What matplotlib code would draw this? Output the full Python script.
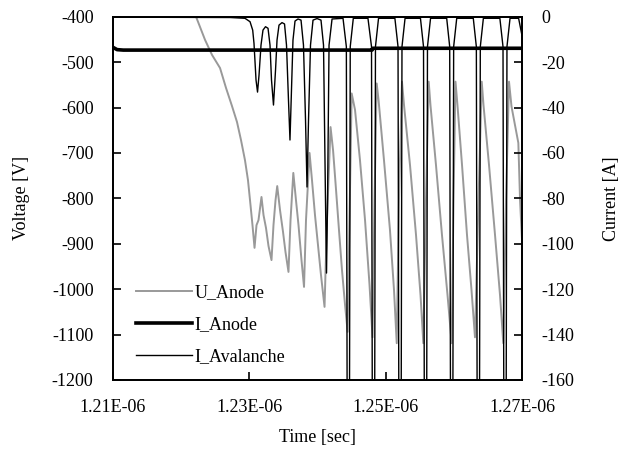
import numpy as np
import matplotlib.pyplot as plt

plt.rcParams['font.family'] = ['Liberation Serif', 'DejaVu Serif']
plt.rcParams['axes.unicode_minus'] = False

# (time [ns], voltage [V])
u_anode = [
    (1221.0, -330), (1222.18, -400), (1223.50, -451), (1224.52, -484), (1225.70, -513),
    (1226.58, -557), (1227.46, -597), (1228.19, -632), (1228.78, -672), (1229.36, -716),
    (1229.80, -760), (1230.17, -815), (1230.46, -859), (1230.76, -909), (1231.05, -859),
    (1231.34, -848), (1231.78, -797), (1232.08, -837), (1232.44, -865), (1232.81, -905),
    (1233.25, -936), (1233.54, -859), (1233.84, -804), (1234.09, -773), (1234.50, -826),
    (1234.94, -874), (1235.30, -918), (1235.74, -962), (1236.04, -848), (1236.45, -744),
    (1236.84, -804), (1237.21, -859), (1237.65, -936), (1238.02, -995), (1238.31, -848),
    (1238.83, -700), (1239.19, -760), (1239.63, -837), (1240.07, -903), (1240.51, -969),
    (1241.03, -1039), (1241.39, -848), (1241.91, -643), (1242.28, -694), (1242.72, -782),
    (1243.15, -870), (1243.59, -958), (1244.04, -1035), (1244.42, -1094), (1244.69, -848),
    (1245.01, -569), (1245.50, -605), (1246.23, -716), (1246.97, -848), (1247.63, -991),
    (1248.07, -1106), (1248.36, -804), (1248.68, -547), (1248.95, -583), (1249.75, -716),
    (1250.63, -870), (1251.22, -1002), (1251.62, -1119), (1251.95, -804), (1252.39, -543),
    (1252.69, -595), (1253.57, -727), (1254.45, -881), (1255.11, -1013), (1255.52, -1119),
    (1255.91, -804), (1256.31, -543), (1256.57, -595), (1257.38, -727), (1258.26, -881),
    (1259.07, -1013), (1259.68, -1119), (1259.95, -804), (1260.24, -543), (1260.53, -595),
    (1261.20, -727), (1261.93, -881), (1262.59, -1002), (1263.10, -1106), (1263.62, -804),
    (1264.09, -543), (1264.35, -595), (1265.16, -727), (1266.04, -881), (1266.77, -1013),
    (1267.25, -1119), (1267.65, -804), (1268.09, -543), (1268.46, -598), (1269.46, -678),
    (1269.71, -804), (1270.0, -892),
]

# (time [ns], current [A])
i_anode = [
    (1210.0, -13.5), (1210.6, -14.5), (1211.5, -14.7), (1248.0, -14.7),
    (1248.1, -13.9), (1270.0, -13.9),
]

i_avalanche = [
    (1210.0, -0.2), (1227.2, -0.35), (1229.36, -0.7), (1230.10, -2.2), (1230.49, -5.9),
    (1230.68, -11.7), (1230.98, -27.9), (1231.20, -33.2), (1231.42, -25.7), (1231.71, -12.5),
    (1232.00, -5.9), (1232.37, -4.4), (1232.74, -5.1), (1233.03, -12.5), (1233.25, -27.9),
    (1233.54, -38.9), (1233.84, -23.5), (1234.06, -10.3), (1234.35, -3.7), (1234.79, -2.6),
    (1235.16, -3.2), (1235.45, -12.5), (1235.74, -36.7), (1235.96, -54.3), (1236.18, -32.3),
    (1236.40, -10.3), (1236.70, -1.9), (1237.14, -1.0), (1237.58, -1.5), (1237.94, -12.5),
    (1238.24, -45.5), (1238.46, -75.0), (1238.68, -45.5), (1238.97, -12.5), (1239.34, -1.5),
    (1239.93, -0.8), (1240.51, -1.5), (1240.88, -12.5), (1241.17, -80.8), (1241.32, -112.9),
    (1241.47, -80.8), (1241.69, -12.5), (1242.13, -1.0), (1243.74, -0.7),
    (1244.23, -13.2), (1244.44, -300), (1244.60, -300), (1244.80, -13.2), (1245.25, -0.7),
    (1247.40, -0.7),
    (1247.92, -13.2), (1248.13, -300), (1248.29, -300), (1248.50, -13.2), (1248.95, -0.7),
    (1251.35, -0.7),
    (1251.81, -13.2), (1252.02, -300), (1252.18, -300), (1252.39, -13.2), (1252.84, -0.7),
    (1255.10, -0.7),
    (1255.55, -13.2), (1255.76, -300), (1255.92, -300), (1256.13, -13.2), (1256.58, -0.7),
    (1258.95, -0.7),
    (1259.39, -13.2), (1259.60, -300), (1259.76, -300), (1259.97, -13.2), (1260.42, -0.7),
    (1262.85, -0.7),
    (1263.30, -13.2), (1263.51, -300), (1263.67, -300), (1263.88, -13.2), (1264.33, -0.7),
    (1266.75, -0.7),
    (1267.21, -13.2), (1267.42, -300), (1267.58, -300), (1267.79, -13.2), (1268.24, -0.7),
    (1269.50, -0.7), (1270.30, -13.0),
]

x_ticks = [1.21e-6, 1.23e-6, 1.25e-6, 1.27e-6]
v_ticks = [-1200, -1100, -1000, -900, -800, -700, -600, -500, -400]
i_ticks = [-160, -140, -120, -100, -80, -60, -40, -20, 0]

u = np.array(u_anode)
ia = np.array(i_anode)
iav = np.array(i_avalanche)

fig = plt.figure(figsize=(6.31, 4.63), dpi=100)
ax = fig.add_axes([0.1791, 0.1793, 0.6482, 0.7846])
ax2 = ax.twinx()

l1, = ax.plot(u[:, 0] * 1e-9, u[:, 1], color='#999999', lw=1.4, label='U_Anode')
l2, = ax2.plot(ia[:, 0] * 1e-9, ia[:, 1], color='black', lw=2.6, label='I_Anode')
l3, = ax2.plot(iav[:, 0] * 1e-9, iav[:, 1], color='black', lw=1.0, label='I_Avalanche')

ax.set_xlim(x_ticks[0], x_ticks[-1])
ax.set_ylim(v_ticks[0], v_ticks[-1])
ax2.set_ylim(i_ticks[0], i_ticks[-1])

ax.set_xticks(x_ticks)
ax.set_xticklabels(['{:.2E}'.format(v) for v in x_ticks])
ax.set_yticks(v_ticks)
ax.set_yticklabels([str(v) for v in v_ticks])
ax2.set_yticks(i_ticks)
ax2.set_yticklabels([str(v) for v in i_ticks])

ax.tick_params(axis='x', direction='in', length=6, width=1.2, pad=14, labelsize=13)
ax.tick_params(axis='y', direction='in', length=6, width=1.2, pad=14, labelsize=13)
ax2.tick_params(axis='y', direction='in', length=6, width=1.2, pad=14, labelsize=13)
for a in (ax, ax2):
    for s in a.spines.values():
        s.set_linewidth(1.3)

ax.set_xlabel('Time [sec]', fontsize=13, labelpad=9)
ax.set_ylabel('Voltage [V]', fontsize=13)
ax2.set_ylabel('Current [A]', fontsize=13)
ax.yaxis.set_label_coords(-0.202, 0.5)
ax2.yaxis.set_label_coords(1.198, 0.5)

ax2.legend([l1, l2, l3], ['U_Anode', 'I_Anode', 'I_Avalanche'], loc='center left',
           bbox_to_anchor=(0.056, 0.152), frameon=False, fontsize=13,
           handlelength=3.1, handletextpad=0.15, labelspacing=0.85,
           borderpad=0, borderaxespad=0)

fig.savefig('out.png', dpi=100)
